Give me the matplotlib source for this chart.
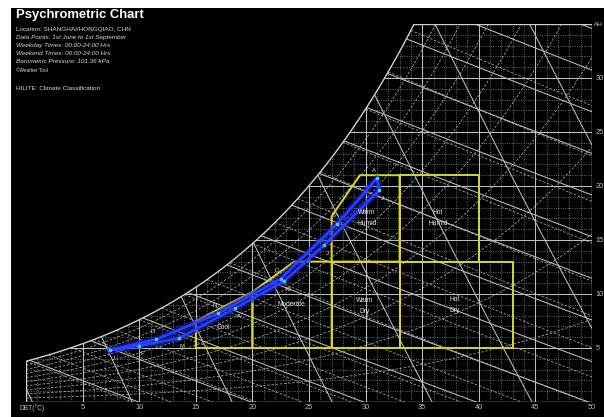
import numpy as np
import matplotlib
matplotlib.use("Agg")
import matplotlib.pyplot as plt
from matplotlib.patches import Rectangle, Polygon, PathPatch
from matplotlib.path import Path

plt.rcParams['font.family'] = ['Liberation Sans', 'DejaVu Sans']

P_ATM = 101.36  # barometric pressure, kPa

# Monthly climate track: dry-bulb temperature (°C) and moisture content (g/kg)
spring_months = ['J', 'F', 'M', 'A', 'M', 'J', 'J']
spring_dbt = [7.4, 10.0, 13.5, 18.5, 22.8, 26.3, 31.2]
spring_ah = [4.8, 5.2, 5.9, 8.7, 11.2, 14.5, 19.6]

autumn_months = ['A', 'S', 'O', 'N', 'D']
autumn_dbt = [31.0, 27.5, 22.5, 17.0, 11.5]
autumn_ah = [20.7, 16.5, 11.4, 8.2, 5.8]

# Climate classification zones (DBT, AH) outlines
zone_cool = [(15, 5), (20, 5), (20, 10.2), (15, 7.5)]
zone_moderate = [(20, 5), (27, 5), (27, 13), (23.7, 13), (20, 10.2)]
zone_warm_dry = [(27, 5), (33, 5), (33, 13), (27, 13)]
zone_hot_dry = [(33, 5), (43, 5), (43, 13), (33, 13)]
zone_warm_humid = [(27, 13), (33, 13), (33, 21), (29.5, 21), (27, 17.2)]
zone_hot_humid = [(33, 13), (40, 13), (40, 21), (33, 21)]
zone_polys = [zone_cool, zone_moderate, zone_warm_dry, zone_hot_dry,
              zone_warm_humid, zone_hot_humid]

zone_labels = ['Cool', 'Moderate', 'Warm\nDry', 'Hot\nDry', 'Warm\nHumid', 'Hot\nHumid']
zone_label_dbt = [17.4, 23.4, 29.9, 37.9, 30.1, 36.4]
zone_label_ah = [6.9, 9.0, 8.9, 9.0, 17.0, 17.0]

x_ticks = [5, 10, 15, 20, 25, 30, 35, 40, 45, 50]
y_ticks = [5, 10, 15, 20, 25, 30]

info_lines = [
    ("Location: SHANGHAI/HONGQIAO, CHN", 'normal'),
    ("Data Points: 1st June to 1st September", 'italic'),
    ("Weekday Times: 00:00-24:00 Hrs", 'italic'),
    ("Weekend Times: 00:00-24:00 Hrs", 'italic'),
    ("Barometric Pressure: 101.36 kPa", 'italic'),
]


def p_sat(t):
    return 0.61094 * np.exp(17.625 * t / (t + 243.04))


def w_from_pv(pv):
    return 622.0 * pv / (P_ATM - pv)


W_, H_ = 604, 417
fig = plt.figure(figsize=(W_ / 100, H_ / 100), dpi=100, facecolor='white')
fig.patches.append(Rectangle((11 / W_, 0), 1, 1 - 8 / H_, transform=fig.transFigure,
                             facecolor='black', edgecolor='none', zorder=-10))

ax = fig.add_axes([26 / W_, 15 / H_, 566 / W_, 378 / H_])
ax.set_xlim(0, 50)
ax.set_ylim(0, 35)
ax.axis('off')

# chart outline: saturation curve on the left, 35 g/kg on top
tt = np.linspace(0, 50, 2001)
ws = w_from_pv(p_sat(tt))
t_top = float(np.interp(35.0, ws, tt))
sat_t = np.append(tt[tt < t_top], t_top)
sat_w = np.append(ws[tt < t_top], 35.0)
verts = [(0, 0)] + list(zip(sat_t, sat_w)) + [(50, 35), (50, 0), (0, 0)]
clip = PathPatch(Path(verts), transform=ax.transData, facecolor='none', edgecolor='none')
ax.add_patch(clip)


def cline(x, y, **kw):
    ln, = ax.plot(x, y, **kw)
    ln.set_clip_path(clip)
    return ln


dot = dict(color='#8c8c8c', lw=0.6, ls=(0, (1, 1.8)))
dash = dict(color='#a0a0a0', lw=0.6, ls=(0, (3, 2)))
solid = dict(color='#bdbdbd', lw=0.75)

# fine dotted grid
for t in range(1, 50):
    if t % 5:
        cline([t, t], [0, 35], **dot)
for w in range(1, 35):
    if w % 5:
        cline([0, 50], [w, w], **dot)

# relative humidity curves
for rh in np.arange(0.1, 1.0, 0.1):
    pv = rh * p_sat(tt)
    cline(tt, w_from_pv(pv), **dash)

# wet-bulb lines
for twb in range(0, 36, 2):
    wsw = w_from_pv(p_sat(twb)) / 1000.0
    t = np.linspace(twb, 50, 200)
    w = ((2501 - 2.326 * twb) * wsw - 1.006 * (t - twb)) / (2501 + 1.86 * t - 4.186 * twb)
    cline(t, w * 1000, **dash)

# main grid
for t in range(5, 50, 5):
    cline([t, t], [0, 35], **solid)
for w in range(5, 35, 5):
    cline([0, 50], [w, w], **solid)

# enthalpy lines
for h in range(10, 160, 10):
    t = np.linspace(0, 50, 200)
    w = (h - 1.006 * t) / (2501 + 1.86 * t) * 1000
    cline(t, w, **solid)

# specific volume lines
for v in np.arange(0.775, 0.976, 0.025):
    t = np.linspace(0, 50, 200)
    w = (v * P_ATM / (0.287 * (t + 273.15)) - 1) / 1.608 * 1000
    cline(t, w, **solid)

# outline
ax.plot(sat_t, sat_w, color='#cfcfcf', lw=1.0)
ax.plot([t_top, 50, 50, 0, 0], [35, 35, 0, 0, sat_w[0]], color='#cfcfcf', lw=1.0)

# climate zones
for poly in zone_polys:
    ax.add_patch(Polygon(poly, closed=True, fill=False, edgecolor='#d6d62a', lw=1.4, zorder=4))
for lab, x, y in zip(zone_labels, zone_label_dbt, zone_label_ah):
    ax.text(x, y, lab, color='#e6e6e6', fontsize=4.8, ha='center', va='center',
            linespacing=1.8, zorder=6)

# monthly track
track_t = spring_dbt + autumn_dbt + [spring_dbt[0]]
track_w = spring_ah + autumn_ah + [spring_ah[0]]
ax.plot(track_t, track_w, color='#1020c0', lw=4.8, alpha=0.6, solid_capstyle='round', zorder=5)
ax.plot(track_t, track_w, color='#2a40ff', lw=1.8, solid_capstyle='round', zorder=5)
ax.scatter(spring_dbt + autumn_dbt, spring_ah + autumn_ah, s=7, color='#46c8e8',
           zorder=6, linewidths=0)
for m, x, y in zip(spring_months, spring_dbt, spring_ah):
    ax.text(x + 0.3, y - 0.75, m, color='#e0e0e0', fontsize=4.2, ha='center', va='center', zorder=7)
for m, x, y in zip(autumn_months, autumn_dbt, autumn_ah):
    ax.text(x - 0.3, y + 0.75, m, color='#e0e0e0', fontsize=4.2, ha='center', va='center', zorder=7)

# axis labels
for t in x_ticks:
    ax.text(t, -0.55, str(t), color='#bdbdbd', fontsize=5.3, ha='center', va='center', clip_on=False)
for w in y_ticks:
    ax.text(50.3, w, str(w), color='#bdbdbd', fontsize=5.3, ha='left', va='center', clip_on=False)
ax.text(50.2, 35, 'AH', color='#bdbdbd', fontsize=4.6, ha='left', va='center', clip_on=False)
ax.text(-0.6, -0.55, 'DBT(°C)', color='#bdbdbd', fontsize=4.8, ha='left', va='center', clip_on=False)

# header
fig.text(16 / W_, 1 - 15 / H_, 'Psychrometric Chart', color='white', fontsize=9.4,
         fontweight='bold', ha='left', va='center')
for i, (s, st) in enumerate(info_lines):
    fig.text(16 / W_, 1 - (29.5 + 8.1 * i) / H_, s, color='#d8d8d8', fontsize=4.6,
             style=st, ha='left', va='center')
fig.text(16 / W_, 1 - 71 / H_, '©Weather Tool', color='#d8d8d8', fontsize=3.4,
         ha='left', va='center')
fig.text(16 / W_, 1 - 88 / H_, 'HILITE: Climate Classification', color='#d8d8d8', fontsize=4.6,
         ha='left', va='center')

fig.savefig('out.png', dpi=100, facecolor='white')
